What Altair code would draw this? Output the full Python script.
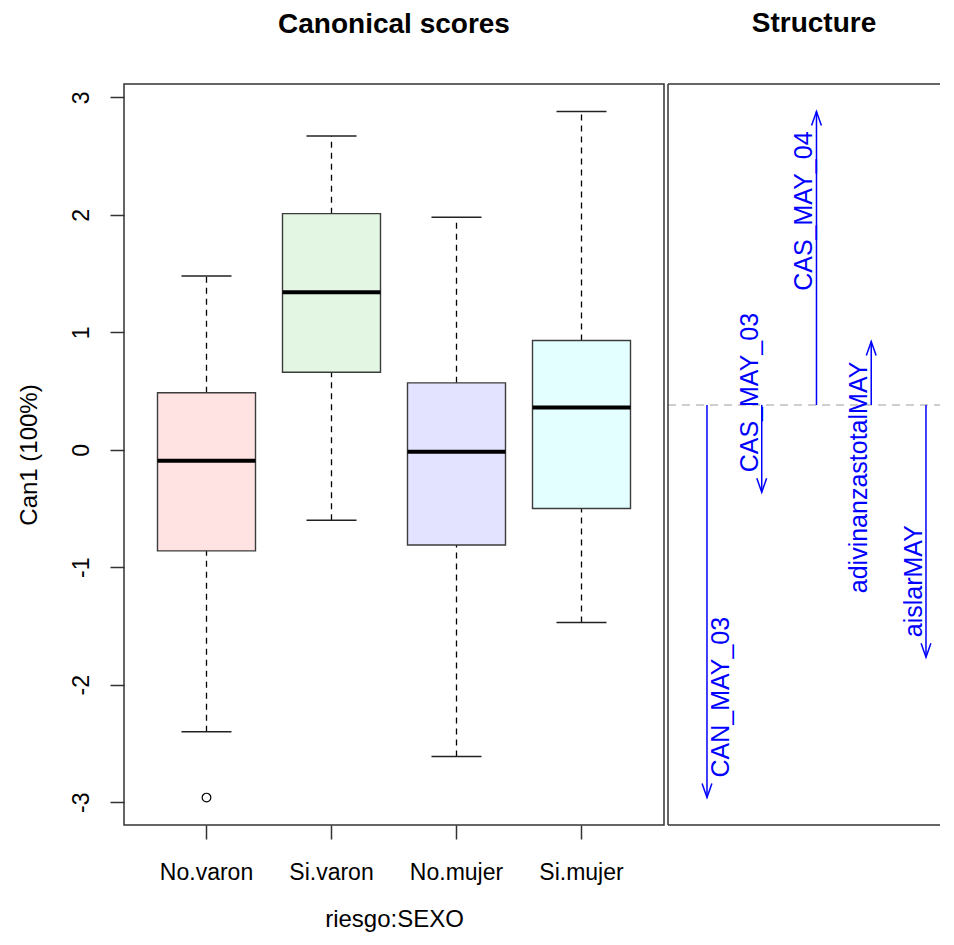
import altair as alt
import pandas as pd

# ---- data: canonical scores (box summaries) ----
groups = ["No.varon", "Si.varon", "No.mujer", "Si.mujer"]
whisker_low = [-2.40, -0.60, -2.61, -1.47]
q1 = [-0.86, 0.66, -0.81, -0.50]
median = [-0.094, 1.34, -0.017, 0.36]
q3 = [0.485, 2.01, 0.57, 0.93]
whisker_high = [1.48, 2.67, 1.98, 2.88]
outlier_group = ["No.varon"]
outlier_value = [-2.96]
box_fill = ["#FFE3E3", "#E3F6E3", "#E3E3FF", "#E3FFFF"]
y_ticks = [-3, -2, -1, 0, 1, 2, 3]

# ---- data: structure coefficients ----
variables = ["CAN_MAY_03", "CAS_MAY_03", "CAS_MAY_04", "adivinanzastotalMAY", "aislarMAY"]
structure = [-0.800, -0.178, 0.598, 0.129, -0.514]

FONT = "Liberation Sans"
LW, H = 540, 741
RW = 272
FRAME = "#333333"
BLUE = "#0000FF"

box_df = pd.DataFrame({
    "group": groups, "lo": whisker_low, "q1": q1, "med": median,
    "q3": q3, "hi": whisker_high,
})
out_df = pd.DataFrame({"group": outlier_group, "value": outlier_value})

all_vals = whisker_low + whisker_high + outlier_value
ymin, ymax = min(all_vals), max(all_vals)
ypad = 0.04 * (ymax - ymin)
ydom = [ymin - ypad, ymax + ypad]

xenc = alt.X(
    "group:N", sort=groups, title="riesgo:SEXO",
    scale=alt.Scale(paddingInner=0, paddingOuter=0.16),
    axis=alt.Axis(labelAngle=0, tickSize=14, labelPadding=22, domain=False,
                  titlePadding=23, labelFontSize=23, titleFontSize=24,
                  labelBaseline="top", grid=False),
)
yscale = alt.Scale(domain=ydom, nice=False, zero=False)
yaxis = alt.Axis(values=y_ticks, labelAngle=270, labelAlign="center",
                 labelBaseline="alphabetic", labelPadding=22, tickSize=14,
                 domain=False, grid=False, titleX=-88, titleAngle=270,
                 titleBaseline="alphabetic", labelFontSize=23, titleFontSize=24,
                 labelExpr="'' + datum.value", labelOverlap=False)

def Y(field):
    return alt.Y(field, scale=yscale, axis=yaxis, title="Can1 (100%)")

base = alt.Chart(box_df)
whisk_up = base.mark_rule(strokeDash=[6, 5], color="black", strokeWidth=1.3).encode(
    x=xenc, y=Y("q3:Q"), y2="hi:Q")
whisk_lo = base.mark_rule(strokeDash=[6, 5], color="black", strokeWidth=1.3).encode(
    x=xenc, y=Y("lo:Q"), y2="q1:Q")
cap_hi = base.mark_tick(size=50, thickness=1.5, color="#222222", opacity=1).encode(
    x=xenc, y=Y("hi:Q"))
cap_lo = base.mark_tick(size=50, thickness=1.5, color="#222222", opacity=1).encode(
    x=xenc, y=Y("lo:Q"))
box = base.mark_bar(size=98, stroke="#3c3c3c", strokeWidth=1.4).encode(
    x=xenc, y=Y("q1:Q"), y2="q3:Q",
    fill=alt.Fill("group:N", scale=alt.Scale(domain=groups, range=box_fill), legend=None),
)
med = base.mark_tick(size=98, thickness=4, color="black", opacity=1).encode(
    x=xenc, y=Y("med:Q"))
outl = alt.Chart(out_df).mark_point(shape="circle", filled=False, size=75,
                                    color="black", strokeWidth=1.2, opacity=1).encode(
    x=xenc, y=Y("value:Q"))

left = alt.layer(whisk_up, whisk_lo, cap_hi, cap_lo, box, med, outl).properties(
    width=LW, height=H,
    title=alt.TitleParams("Canonical scores", fontSize=28, fontWeight="bold", font=FONT,
                          anchor="middle", frame="group", baseline="alphabetic",
                          offset=23, color="black"),
)

# ---- structure panel ----
st_df = pd.DataFrame({"var": variables, "value": structure,
                      "idx": list(range(1, len(variables) + 1))})
smin, smax = min(structure), max(structure)
spad = 0.04 * (smax - smin)
sdom = [smin - spad, smax + spad]
sx = alt.X("idx:Q", scale=alt.Scale(domain=[0.288, 0.288 + RW / 54.75], nice=False, zero=False),
           axis=None)
sy_scale = alt.Scale(domain=sdom, nice=False, zero=False)

sbase = alt.Chart(st_df).transform_calculate(
    zero="0", dir="datum.value > 0 ? 'up' : 'down'")
shaft = sbase.mark_rule(color=BLUE, strokeWidth=1.5).encode(
    x=sx, y=alt.Y("zero:Q", scale=sy_scale, axis=None), y2="value:Q")
up_path = "M-0.35,1L0,0L0.35,1"
down_path = "M-0.35,-1L0,0L0.35,-1"
heads = sbase.mark_point(filled=False, size=784, strokeWidth=1.5, color=BLUE, opacity=1).encode(
    x=sx, y=alt.Y("value:Q", scale=sy_scale, axis=None),
    shape=alt.Shape("dir:N", scale=alt.Scale(domain=["up", "down"], range=[up_path, down_path]),
                    legend=None),
)
txt_kw = dict(angle=270, baseline="alphabetic", font=FONT, fontSize=25, color=BLUE)
lab_pos = sbase.transform_filter("datum.value > 0").mark_text(
    align="right", dx=-20, dy=-4, **txt_kw).encode(
    x=sx, y=alt.Y("value:Q", scale=sy_scale, axis=None), text="var:N")
lab_neg = sbase.transform_filter("datum.value < 0 && datum.idx > 1").mark_text(
    align="left", dx=20, dy=-4, **txt_kw).encode(
    x=sx, y=alt.Y("value:Q", scale=sy_scale, axis=None), text="var:N")
lab_neg1 = sbase.transform_filter("datum.value < 0 && datum.idx == 1").mark_text(
    align="left", dx=20, dy=22, **txt_kw).encode(
    x=sx, y=alt.Y("value:Q", scale=sy_scale, axis=None), text="var:N")

one = alt.Data(values=[{"z": 0}])
zero_line = alt.Chart(one).mark_rule(strokeDash=[8, 6], color="#BEBEBE", strokeWidth=1.5).encode(
    y=alt.Y("z:Q", scale=sy_scale, axis=None), x=alt.value(0), x2=alt.value(RW))
fr_top = alt.Chart(one).mark_rule(color=FRAME, strokeWidth=1.5).encode(
    x=alt.value(0), x2=alt.value(RW), y=alt.value(0))
fr_bot = alt.Chart(one).mark_rule(color=FRAME, strokeWidth=1.5).encode(
    x=alt.value(0), x2=alt.value(RW), y=alt.value(H))
fr_left = alt.Chart(one).mark_rule(color=FRAME, strokeWidth=1.5).encode(
    x=alt.value(0), y=alt.value(0), y2=alt.value(H))

right = alt.layer(zero_line, shaft, heads, lab_pos, lab_neg, lab_neg1,
                  fr_top, fr_bot, fr_left).properties(
    width=RW, height=H,
    view=alt.ViewBackground(stroke="transparent"),
    title=alt.TitleParams("Structure", fontSize=28, fontWeight="bold", font=FONT,
                          anchor="middle", frame="group", baseline="alphabetic",
                          offset=23, color="black", dx=10),
)

chart = alt.hconcat(left, right, spacing=1).properties(
    padding={"left": 8, "top": 1, "right": 0, "bottom": 0},
    background="white",
).configure_view(stroke=FRAME, strokeWidth=1.5).configure_axis(
    labelFont=FONT, titleFont=FONT, labelColor="black", titleColor="black",
    titleFontWeight="normal", tickColor=FRAME, tickWidth=1.5,
).configure_concat(spacing=1)

chart.save("out.html", embed_options={"renderer": "svg", "actions": False})
